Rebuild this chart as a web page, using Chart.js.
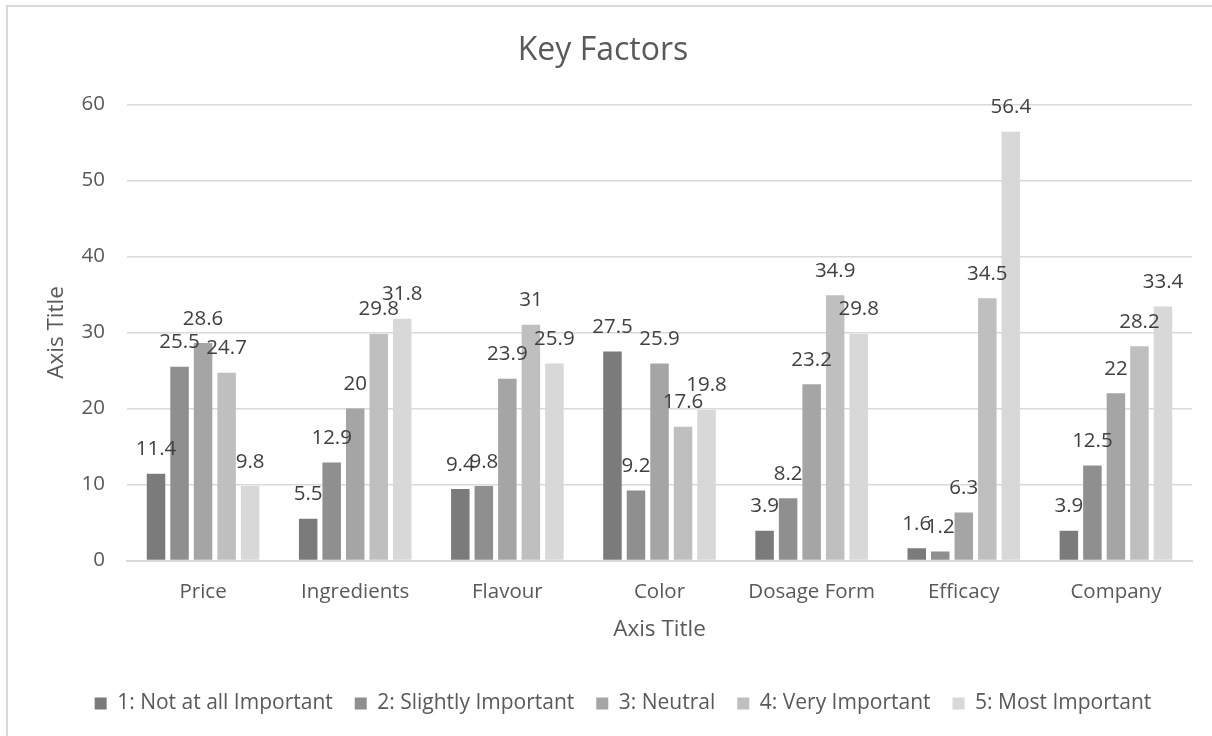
<!DOCTYPE html>
<html>
<head>
<meta charset="utf-8">
<script src="https://cdn.jsdelivr.net/npm/chart.js@4/dist/chart.umd.min.js"></script>
<style>
  html, body { margin: 0; padding: 0; background: #fff; }
  body { width: 1212px; height: 736px; overflow: hidden; position: relative; }
  #frame { position: absolute; left: 6px; top: 5px; width: 1220px; height: 750px;
           border-left: 2px solid #d9d9d9; border-top: 2px solid #d9d9d9; box-sizing: border-box; }
  #wrap { position: absolute; left: 0; top: 0; width: 1212px; height: 736px; }
</style>
</head>
<body>
<div id="frame"></div>
<div id="wrap"><canvas id="c" width="1212" height="736"></canvas></div>
<script>
// Categories and survey percentages per importance level
const categories = ["Price", "Ingredients", "Flavour", "Color", "Dosage Form", "Efficacy", "Company"];
const seriesNames = ["1: Not at all Important", "2: Slightly Important", "3: Neutral", "4: Very Important", "5: Most Important"];
const notImportant      = [11.4, 5.5, 9.4, 27.5, 3.9, 1.6, 3.9];
const slightlyImportant = [25.5, 12.9, 9.8, 9.2, 8.2, 1.2, 12.5];
const neutral           = [28.6, 20, 23.9, 25.9, 23.2, 6.3, 22];
const veryImportant     = [24.7, 29.8, 31, 17.6, 34.9, 34.5, 28.2];
const mostImportant     = [9.8, 31.8, 25.9, 19.8, 29.8, 56.4, 33.4];
const yTicks = [0, 10, 20, 30, 40, 50, 60];

const seriesValues = [notImportant, slightlyImportant, neutral, veryImportant, mostImportant];
const seriesColors = ["#7b7b7b", "#8f8f8f", "#a5a5a5", "#bfbfbf", "#d8d8d8"];

const FONT = "'Open Sans', 'DejaVu Sans', sans-serif";
const TEXT = 20.5;

// Draws each bar's value just above it
const valueLabels = {
  id: "valueLabels",
  afterDatasetsDraw(chart) {
    const ctx = chart.ctx;
    ctx.save();
    ctx.font = TEXT + "px " + FONT;
    ctx.fillStyle = "#404040";
    ctx.textAlign = "center";
    ctx.textBaseline = "alphabetic";
    chart.data.datasets.forEach((ds, i) => {
      const meta = chart.getDatasetMeta(i);
      meta.data.forEach((bar, j) => {
        ctx.fillText(String(ds.data[j]), bar.x, bar.y - 18.5);
      });
    });
    ctx.restore();
  }
};

// Nudges the legend row a little to the right of the canvas centre
const legendShift = {
  id: "legendShift",
  afterLayout(chart) {
    const lg = chart.legend;
    if (lg) { lg.left += 20; lg.right += 20; }
  }
};

new Chart(document.getElementById("c"), {
  type: "bar",
  data: {
    labels: categories,
    datasets: seriesValues.map((vals, i) => ({
      label: seriesNames[i],
      data: vals,
      backgroundColor: seriesColors[i],
      borderWidth: 0,
      barPercentage: 0.787,
      categoryPercentage: 0.773
    }))
  },
  options: {
    responsive: false,
    animation: false,
    layout: { padding: { left: 14, right: 20, top: 12, bottom: 12 } },
    plugins: {
      title: {
        display: true,
        text: "Key Factors",
        color: "#595959",
        font: { family: FONT, size: 32, weight: "normal" },
        padding: { top: 20, bottom: 34 }
      },
      legend: {
        position: "bottom",
        labels: {
          color: "#595959",
          font: { family: FONT, size: 21 },
          boxWidth: 12,
          boxHeight: 12,
          padding: 22
        }
      },
      tooltip: { enabled: false }
    },
    scales: {
      x: {
        afterFit(scale) { scale.height = 110.5; },
        grid: { display: false, drawTicks: false },
        border: { display: true, color: "#d9d9d9", width: 2 },
        ticks: { color: "#595959", font: { family: FONT, size: TEXT }, padding: 19 },
        title: { display: true, text: "Axis Title", color: "#595959",
                 font: { family: FONT, size: 22.5 }, padding: { top: 10, bottom: 28 } }
      },
      y: {
        min: 0, max: 60,
        afterFit(scale) { scale.width = 113; },
        afterBuildTicks(axis) { axis.ticks = yTicks.map(v => ({ value: v })); },
        grid: { color: "#d9d9d9", lineWidth: 1.5, drawTicks: false },
        border: { display: false },
        ticks: { color: "#595959", font: { family: FONT, size: TEXT }, padding: 22 },
        title: { display: true, text: "Axis Title", color: "#595959",
                 font: { family: FONT, size: 22.5 }, padding: { top: 29.5, bottom: 10 } }
      }
    }
  },
  plugins: [valueLabels, legendShift]
});
</script>
</body>
</html>
